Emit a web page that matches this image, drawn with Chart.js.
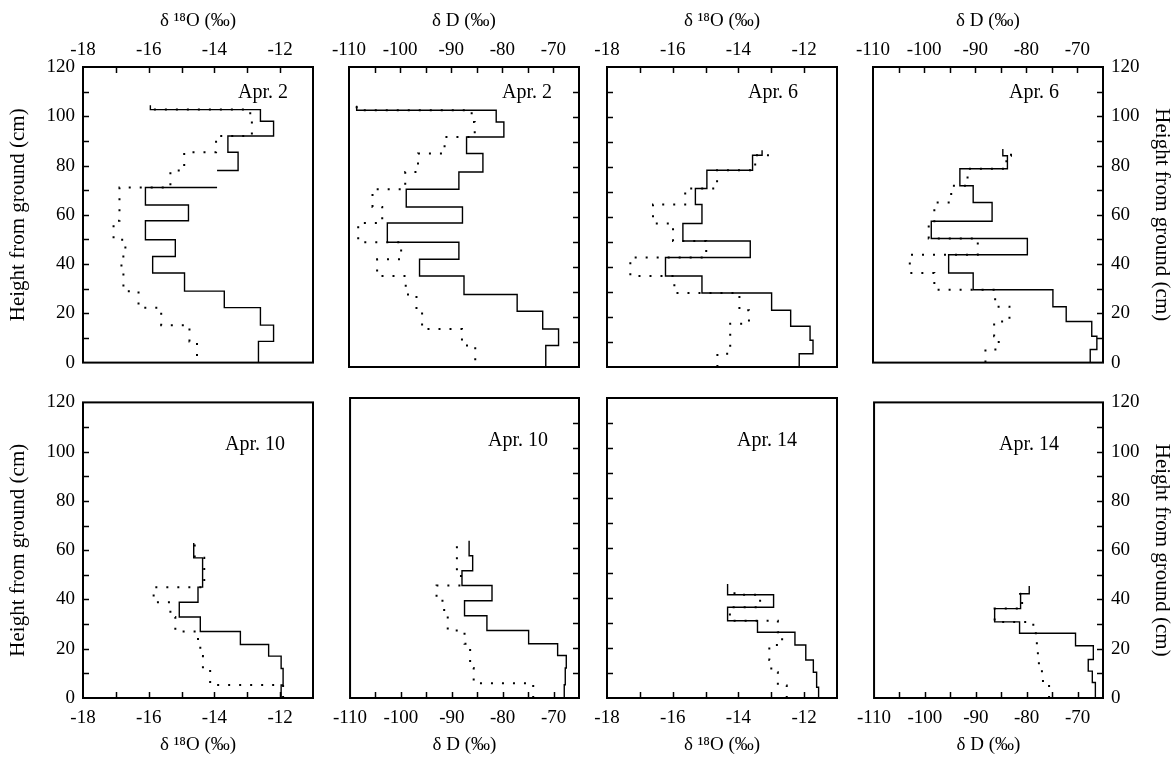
<!DOCTYPE html>
<html>
<head>
<meta charset="utf-8">
<script src="https://cdn.jsdelivr.net/npm/chart.js@4.4.1/dist/chart.umd.min.js"></script>
<style>
html, body { margin: 0; padding: 0; background: #fff; width: 1176px; height: 757px; overflow: hidden; position: relative; }
canvas { position: absolute; }
</style>
</head>
<body>
<script>
// ---------------- DATA ----------------
const dates = ['Apr. 2', 'Apr. 2', 'Apr. 6', 'Apr. 6', 'Apr. 10', 'Apr. 10', 'Apr. 14', 'Apr. 14'];
const o18TickLabels = [-18, -16, -14, -12];
const dDTickLabels = [-110, -100, -90, -80, -70];
const heightTickLabels = [0, 20, 40, 60, 80, 100, 120];
const o18Title = 'δ ¹⁸O (‰)';
const dDTitle = 'δ D (‰)';
const heightTitle = 'Height from ground (cm)';

// Apr. 2  δ18O  (layer boundaries in cm, value per layer)
const apr2_o18_solidH = [0, 8.6, 15.2, 22.3, 29, 36.4, 43.1, 49.9, 57.6, 64, 71.1, 78, 85.4, 92, 98, 102.7, 104.5];
const apr2_o18_solid  = [-12.66, -12.2, -12.6, -13.7, -14.91, -15.88, -15.19, -16.1, -14.79, -16.1, -13.92, -13.28, -13.59, -12.2, -12.6, -15.95];
const apr2_o18_solidGap = [10];
const apr2_o18_dotH = [2.7, 8.6, 15.2, 22.3, 29, 36.4, 43.1, 49.9, 57.6, 64, 71.1, 78, 85.4, 92, 98, 102.7, 104.5];
const apr2_o18_dot  = [-14.53, -14.76, -15.62, -16.31, -16.77, -16.83, -16.71, -17.07, -16.89, -16.89, -15.34, -14.92, -13.95, -12.86, -12.91, -15.95];

// Apr. 2  δD
const apr2_dD_solidH = [0, 8.6, 15.2, 22.3, 29, 36.4, 43.1, 49.9, 57.6, 64, 71.1, 78, 85.4, 92, 98, 102.7, 104.5];
const apr2_dD_solid  = [-71.5, -69.0, -72.1, -77.1, -87.5, -96.2, -88.5, -102.5, -87.8, -98.8, -88.5, -83.8, -87.0, -79.7, -81.2, -108.5];
const apr2_dD_dotH = [2.7, 8.6, 15.2, 22.3, 29, 36.4, 43.1, 49.9, 57.6, 64, 71.1, 78, 85.4, 92, 98, 102.7, 104.5];
const apr2_dD_dot  = [-85.3, -87.9, -95.7, -96.8, -98.9, -104.5, -99.8, -108.2, -103.5, -105.4, -99.0, -96.5, -91.3, -85.4, -86.0, -108.5];

// Apr. 6  δ18O
const apr6_o18_solidH = [0, 5.3, 10.7, 16.3, 22.7, 29.6, 36.4, 43.8, 50.4, 57.4, 65, 71.4, 78.7, 84.7, 86.7];
const apr6_o18_solid  = [-12.15, -11.73, -11.82, -12.41, -12.99, -15.11, -16.22, -13.64, -15.69, -15.11, -15.31, -14.96, -13.57, -13.28];
const apr6_o18_dotH = [0, 5.3, 17.3, 22.7, 29.6, 36.4, 43.8, 50.4, 57.4, 65, 71.4, 78.7, 84.7, 86.7];
const apr6_o18_dot  = [-14.64, -14.25, -13.68, -13.97, -15.95, -17.29, -14.98, -15.99, -16.6, -15.62, -14.65, -13.49, -13.03];

// Apr. 6  δD
const apr6_dD_solidH = [0, 5.3, 10.7, 16.7, 22.7, 29.6, 36.4, 43.8, 50.4, 57.4, 65, 71.8, 78.7, 84, 86.7];
const apr6_dD_solid  = [-67.5, -66.2, -67.2, -72.2, -74.8, -90.4, -95.2, -79.8, -98.6, -86.7, -90.4, -93.0, -83.7, -84.6];
const apr6_dD_dotH = [0, 5.3, 10.7, 16.7, 22.7, 29.6, 36.4, 43.8, 50.4, 57.4, 65, 71.8, 78.7, 84, 86.7];
const apr6_dD_dot  = [-88.0, -85.4, -86.3, -83.3, -86.1, -98.0, -102.8, -89.5, -99.1, -98.0, -94.7, -91.5, -83.9, -83.0];

// Apr. 10  δ18O
const apr10_o18_solidH = [0, 5.3, 12, 17, 21.7, 27, 32.9, 38.9, 45, 56.9, 62.9];
const apr10_o18_solid  = [-11.97, -11.91, -11.97, -12.35, -13.21, -14.43, -15.07, -14.5, -14.36, -14.63];
const apr10_o18_dotH = [0, 5.3, 12, 17, 21.7, 27, 32.9, 38.9, 45, 56.9, 62.9];
const apr10_o18_dot  = [-11.91, -14.13, -14.35, -14.43, -14.5, -15.19, -15.34, -15.85, -14.31, -14.6];

// Apr. 10  δD
const apr10_dD_solidH = [0, 5.3, 12, 17, 21.7, 27, 32.9, 38.9, 45, 50.9, 56.9, 62.9];
const apr10_dD_solid  = [-67.9, -67.7, -67.5, -69.2, -74.9, -83.1, -87.5, -82.1, -88.0, -85.9, -86.6];
const apr10_dD_dotH = [0, 5.9, 12, 21.7, 27, 32.9, 38.9, 45, 50.9, 62.9];
const apr10_dD_dot  = [-74.0, -85.7, -86.4, -87.5, -90.8, -91.5, -93.0, -88.2, -89.0];

// Apr. 14  δ18O
const apr14_o18_solidH = [0, 4.3, 10.3, 15.2, 21.2, 26.3, 30.9, 36.3, 41.3, 45.6];
const apr14_o18_solid  = [-11.56, -11.62, -11.72, -11.95, -12.28, -13.42, -14.33, -12.93, -14.33];
const apr14_o18_dotH = [0, 5, 10.3, 15.2, 21.2, 26.3, 30.9, 36.3, 41.3, 45.6];
const apr14_o18_dot  = [-12.53, -12.8, -13.0, -13.06, -12.67, -12.8, -14.26, -13.34, -14.12];

// Apr. 14  δD
const apr14_dD_solidH = [0, 6.3, 10.9, 15.6, 21.2, 26.3, 30.9, 36.3, 42.3, 45.5];
const apr14_dD_solid  = [-66.5, -67.1, -67.9, -66.9, -70.4, -81.4, -86.3, -81.2, -79.5];
const apr14_dD_dotH = [0, 6.3, 10.9, 15.6, 21.2, 26.3, 30.9, 36.3, 42.3, 45.5];
const apr14_dD_dot  = [-75.6, -76.8, -77.6, -77.8, -78.0, -78.7, -86.3, -80.9, -81.3];

// ---------------- BUILD ----------------
const panels = [
  { sH: apr2_o18_solidH, sV: apr2_o18_solid, sGap: apr2_o18_solidGap, dH: apr2_o18_dotH, dV: apr2_o18_dot },
  { sH: apr2_dD_solidH, sV: apr2_dD_solid, dH: apr2_dD_dotH, dV: apr2_dD_dot },
  { sH: apr6_o18_solidH, sV: apr6_o18_solid, dH: apr6_o18_dotH, dV: apr6_o18_dot },
  { sH: apr6_dD_solidH, sV: apr6_dD_solid, dH: apr6_dD_dotH, dV: apr6_dD_dot },
  { sH: apr10_o18_solidH, sV: apr10_o18_solid, dH: apr10_o18_dotH, dV: apr10_o18_dot },
  { sH: apr10_dD_solidH, sV: apr10_dD_solid, dH: apr10_dD_dotH, dV: apr10_dD_dot },
  { sH: apr14_o18_solidH, sV: apr14_o18_solid, dH: apr14_o18_dotH, dV: apr14_o18_dot },
  { sH: apr14_dD_solidH, sV: apr14_dD_solid, dH: apr14_dD_dotH, dV: apr14_dD_dot }
];

function steps(H, V, gaps) {
  const pts = [];
  for (let i = 0; i < V.length; i++) {
    pts.push({ x: V[i], y: H[i] });
    if (gaps && gaps.includes(i)) pts.push({ x: V[i], y: null });
    pts.push({ x: V[i], y: H[i + 1] });
  }
  return pts;
}

const FONT = '"Liberation Serif", "Times New Roman", serif';
const COL_L = [83, 349, 607, 873];
const ROW_T = [67, 398];
const PW = 230, PH = 300, PAGE_W = 1176, PAGE_H = 757, SIDE = 25, VPAD = 15;
const labelRight = [[25, 27, 39, 44], [28, 31, 40, 44]];
const labelBase = [31, 48];

const framePlugin = {
  id: 'frame',
  afterDraw(chart, args, o) {
    const { ctx, chartArea: a, scales } = chart;
    const xs = scales.x, ys = scales.y;
    ctx.save();
    ctx.strokeStyle = '#000';
    ctx.lineWidth = 1.5;
    const L = 6;
    for (let v = xs.min + o.xMinor; v < xs.max - 1e-9; v += o.xMinor) {
      const px = Math.round(xs.getPixelForValue(v)) + 0.5;
      ctx.beginPath();
      if (o.xSide === 'top') { ctx.moveTo(px, a.top); ctx.lineTo(px, a.top + L); }
      else { ctx.moveTo(px, a.bottom); ctx.lineTo(px, a.bottom - L); }
      ctx.stroke();
    }
    for (let v = 10; v < 120; v += 10) {
      const py = Math.round(ys.getPixelForValue(v)) + 0.5;
      ctx.beginPath();
      if (o.ySide === 'left') { ctx.moveTo(a.left, py); ctx.lineTo(a.left + L, py); }
      else { ctx.moveTo(a.right, py); ctx.lineTo(a.right - L, py); }
      ctx.stroke();
    }
    ctx.lineWidth = 2;
    ctx.strokeRect(a.left, a.top, a.right - a.left, a.bottom - a.top);
    ctx.fillStyle = '#000';
    ctx.font = '20px ' + FONT;
    ctx.textAlign = 'right';
    ctx.textBaseline = 'alphabetic';
    ctx.fillText(o.label, a.right - o.labelRight, a.top + o.labelBase);
    ctx.restore();
  }
};

panels.forEach((p, i) => {
  const row = Math.floor(i / 4), col = i % 4;
  const isO = col % 2 === 0;
  const yShown = col === 0 || col === 3;
  const padL = col === 0 ? COL_L[0] : SIDE;
  const padR = col === 3 ? PAGE_W - (COL_L[3] + PW) : SIDE;
  const padT = row === 0 ? ROW_T[0] : VPAD;
  const padB = row === 1 ? PAGE_H - (ROW_T[1] + PH) : VPAD;
  const cv = document.createElement('canvas');
  cv.width = padL + PW + padR;
  cv.height = padT + PH + padB;
  cv.style.left = (COL_L[col] - padL) + 'px';
  cv.style.top = (ROW_T[row] - padT) + 'px';
  cv.style.width = cv.width + 'px';
  cv.style.height = cv.height + 'px';
  document.body.appendChild(cv);

  const xLabels = isO ? o18TickLabels : dDTickLabels;
  const tickFont = { family: FONT, size: 19 };

  new Chart(cv, {
    type: 'line',
    data: {
      datasets: [
        { data: steps(p.sH, p.sV, p.sGap), borderColor: '#000', borderWidth: 1.4, pointRadius: 0, fill: false, tension: 0, spanGaps: false },
        { data: steps(p.dH, p.dV), borderColor: '#000', borderWidth: 2, borderDash: [2, 9], pointRadius: 0, fill: false, tension: 0, spanGaps: false }
      ]
    },
    options: {
      responsive: false,
      animation: false,
      devicePixelRatio: 1,
      layout: { padding: {
        left: col === 0 ? 0 : SIDE,
        right: col === 3 ? 0 : SIDE,
        top: row === 0 ? 0 : VPAD,
        bottom: row === 1 ? 0 : VPAD } },
      plugins: {
        legend: { display: false },
        tooltip: { enabled: false },
        frame: {
          xSide: row === 0 ? 'top' : 'bottom',
          ySide: (col === 0 || col === 2) ? 'left' : 'right',
          xMinor: isO ? 1 : 5,
          label: dates[i],
          labelRight: labelRight[row][col],
          labelBase: labelBase[row]
        }
      },
      scales: {
        x: {
          type: 'linear',
          position: row === 0 ? 'top' : 'bottom',
          min: isO ? -18 : -110,
          max: isO ? -11 : -65,
          grid: { display: false, drawTicks: false },
          border: { display: false },
          ticks: {
            stepSize: isO ? 1 : 5,
            autoSkip: false, maxRotation: 0, minRotation: 0,
            color: '#000', font: tickFont,
            padding: row === 0 ? 6 : 9,
            callback: v => xLabels.includes(v) ? String(v) : ''
          },
          title: {
            display: true,
            text: isO ? o18Title : dDTitle,
            color: '#000',
            font: { family: FONT, size: 19 },
            padding: row === 0 ? { top: 9.5, bottom: 0 } : { top: 0, bottom: 0.5 }
          },
          afterFit: s => { s.height = row === 0 ? padT : padB; }
        },
        y: {
          type: 'linear',
          display: yShown,
          position: col === 3 ? 'right' : 'left',
          min: 0, max: 120,
          grid: { display: false, drawTicks: false },
          border: { display: false },
          ticks: {
            stepSize: 10, autoSkip: false,
            color: '#000', font: tickFont, padding: 8,
            callback: v => heightTickLabels.includes(v) ? String(v) : ''
          },
          title: {
            display: true,
            text: heightTitle,
            color: '#000',
            font: { family: FONT, size: 21 },
            padding: col === 0 ? { top: 5.4, bottom: 0 } : { top: 1.4, bottom: 0 }
          },
          afterFit: s => { if (yShown) s.width = col === 0 ? padL : padR; }
        }
      }
    },
    plugins: [framePlugin]
  });
});
</script>
</body>
</html>
